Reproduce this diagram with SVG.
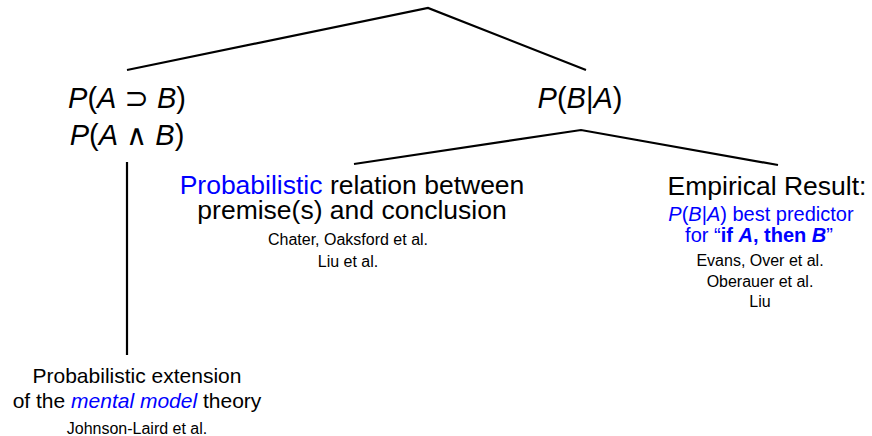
<svg xmlns="http://www.w3.org/2000/svg" width="872" height="436" viewBox="0 0 872 436">
<style>
text{font-family:"Liberation Sans",Arial,sans-serif;fill:#000;text-anchor:middle}
.big{font-size:26.5px}
.math{font-size:29px}
.mid{font-size:20px}
.ext{font-size:21px}
.sm{font-size:16px}
.blue{fill:#0000ff}
.it{font-style:italic}
.b{font-weight:bold}
.sym{font-family:"DejaVu Sans",sans-serif;font-weight:normal}
.edge{stroke:#000;stroke-width:2.2;fill:none;stroke-linecap:butt}
</style>
<rect width="872" height="436" fill="#fff"/>
<g id="connectors">
<polyline class="edge" points="127,70 428,8 586,70"/>
<polyline class="edge" points="354,164 581,130 778,165"/>
<line class="edge" x1="127" y1="162" x2="127" y2="355"/>
</g>
<g id="node-left">
<text class="math" x="127" y="108"><tspan class="it">P</tspan>(<tspan class="it">A</tspan> <tspan class="sym">⊃</tspan> <tspan class="it">B</tspan>)</text>
<text class="math" x="127" y="145"><tspan class="it">P</tspan>(<tspan class="it">A</tspan> <tspan class="sym">∧</tspan> <tspan class="it">B</tspan>)</text>
</g>
<g id="node-right">
<text class="math" x="580" y="108"><tspan class="it">P</tspan>(<tspan class="it">B</tspan>|<tspan class="it">A</tspan>)</text>
</g>
<g id="node-probabilistic">
<text class="big" x="352" y="194"><tspan class="blue">Probabilistic</tspan> relation between<tspan x="352" dy="25">premise(s) and conclusion</tspan></text>
<text class="sm" x="348" y="245">Chater, Oaksford et al.<tspan x="348" dy="22">Liu et al.</tspan></text>
</g>
<g id="node-empirical">
<text class="big" x="767" y="195">Empirical Result:</text>
<text class="mid blue" x="761" y="221"><tspan class="it">P</tspan>(<tspan class="it">B</tspan>|<tspan class="it">A</tspan>) best predictor<tspan x="759" dy="21">for “<tspan class="b">if <tspan class="it">A</tspan>, then <tspan class="it">B</tspan></tspan>”</tspan></text>
<text class="sm" x="760" y="266">Evans, Over et al.<tspan x="760" dy="21">Oberauer et al.</tspan><tspan x="760" dy="20">Liu</tspan></text>
</g>
<g id="node-mental">
<text class="ext" x="137" y="383">Probabilistic extension<tspan x="137" dy="25">of the <tspan class="blue it">mental model</tspan> theory</tspan></text>
<text class="sm" x="137" y="434">Johnson-Laird et al.</text>
</g>
</svg>
